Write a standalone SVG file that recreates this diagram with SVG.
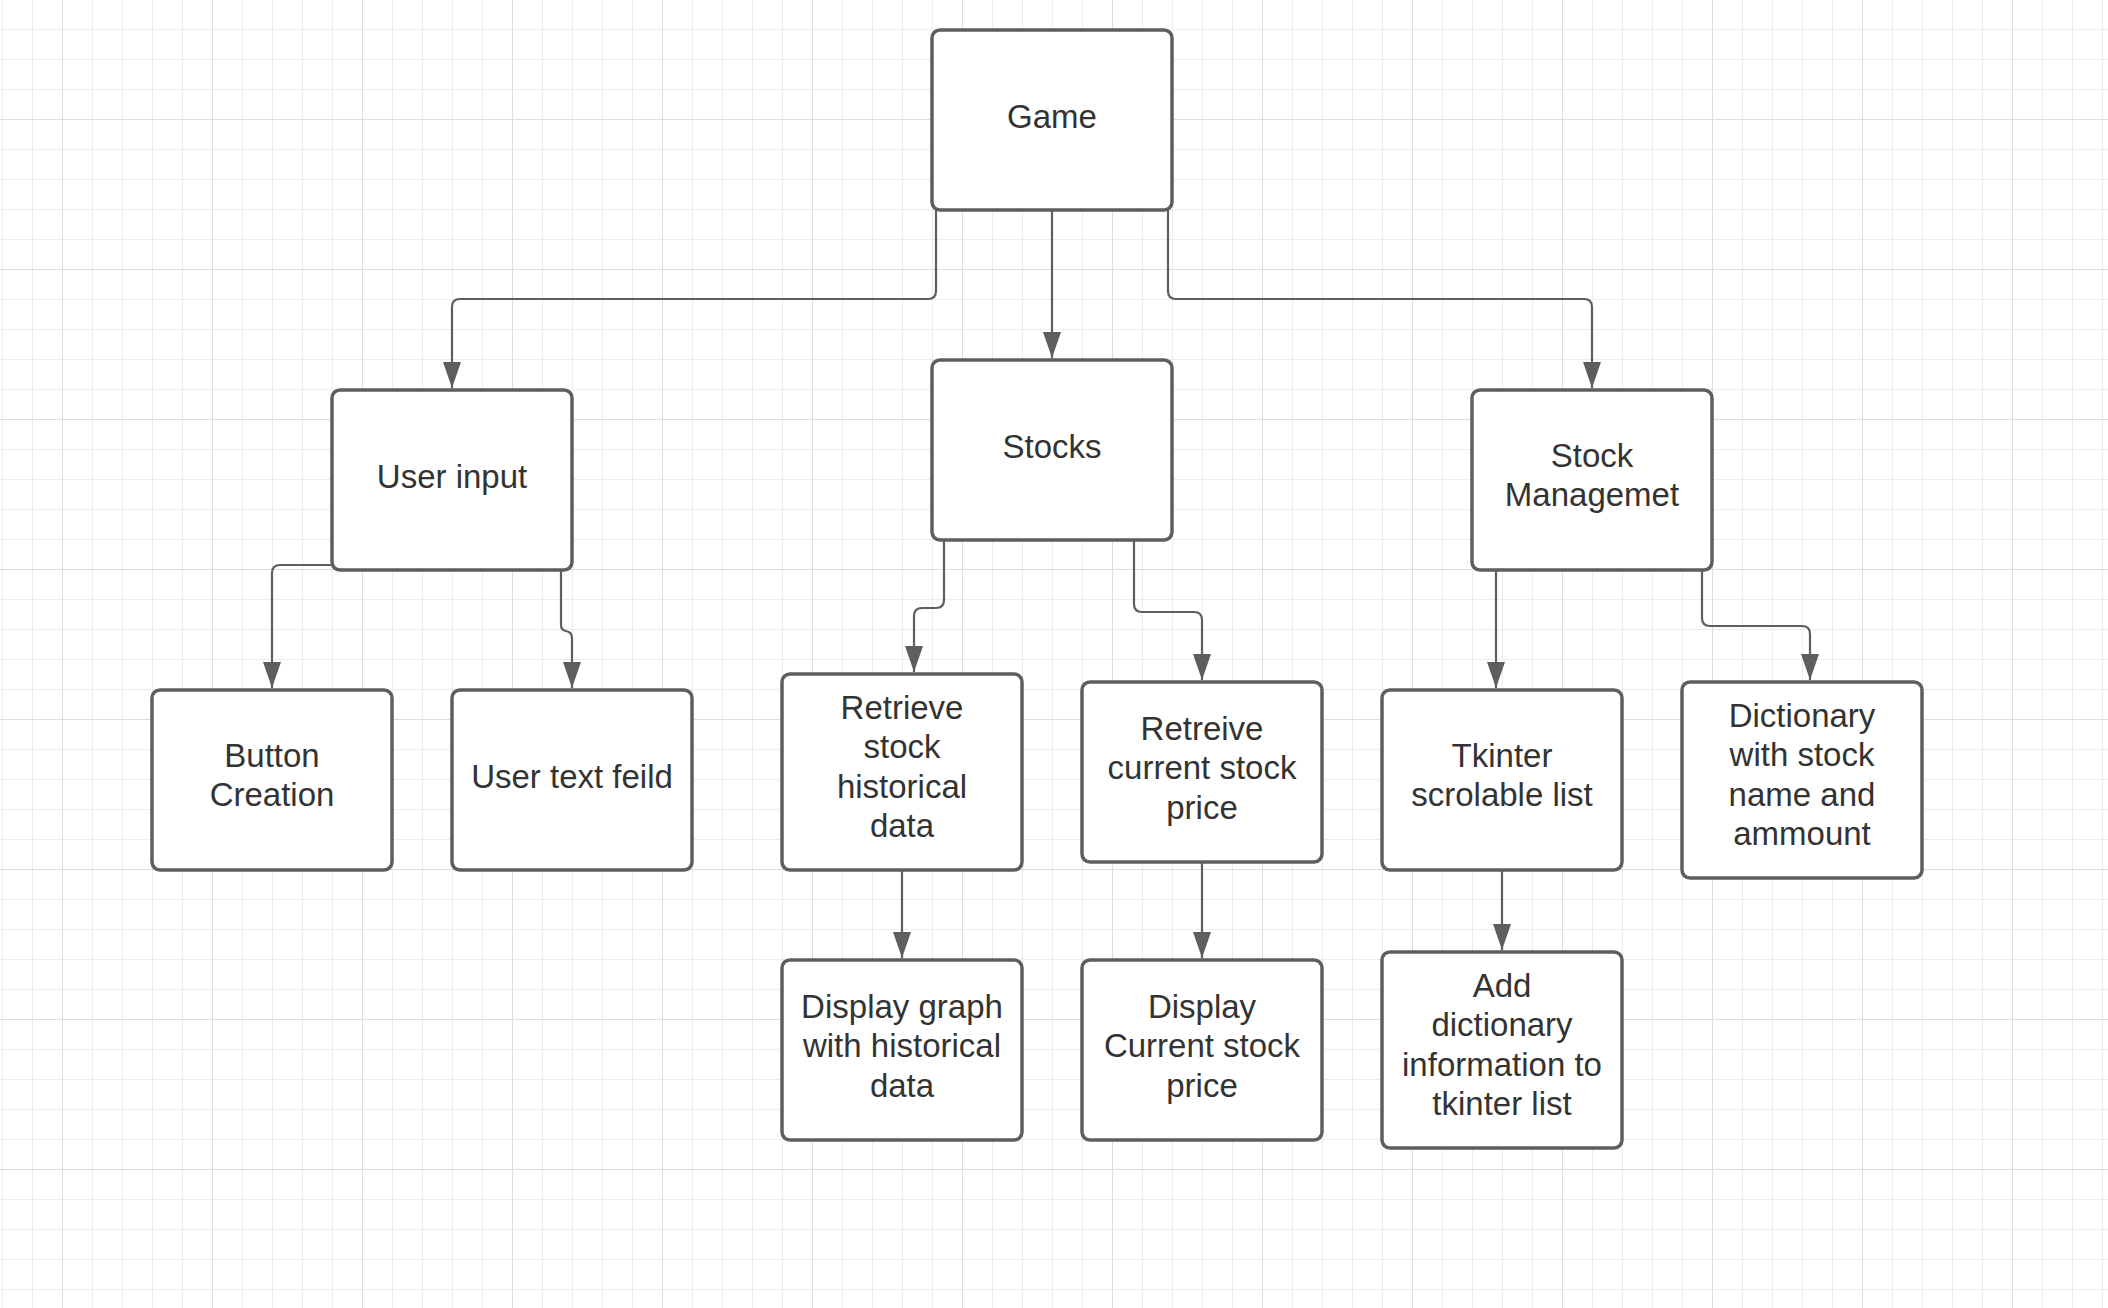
<svg xmlns="http://www.w3.org/2000/svg" width="2108" height="1308" viewBox="0 0 2108 1308">
  <defs>
    <pattern id="grid" x="62" y="119" width="150" height="150" patternUnits="userSpaceOnUse">
      <rect x="30" y="0" width="1" height="150" fill="#ececec"/>
      <rect x="60" y="0" width="1" height="150" fill="#ececec"/>
      <rect x="90" y="0" width="1" height="150" fill="#ececec"/>
      <rect x="120" y="0" width="1" height="150" fill="#ececec"/>
      <rect x="0" y="30" width="150" height="1" fill="#ececec"/>
      <rect x="0" y="60" width="150" height="1" fill="#ececec"/>
      <rect x="0" y="90" width="150" height="1" fill="#ececec"/>
      <rect x="0" y="120" width="150" height="1" fill="#ececec"/>
      <rect x="0" y="0" width="1" height="150" fill="#dddddd"/>
      <rect x="0" y="0" width="150" height="1" fill="#dddddd"/>
    </pattern>
    <marker id="arrow" markerUnits="userSpaceOnUse" markerWidth="26" markerHeight="18" refX="26" refY="9" orient="auto">
      <path d="M0,0 L26,9 L0,18 Z" fill="#5e5e5e"/>
    </marker>
    <style>
      .box { fill: #ffffff; stroke: #5e5e5e; stroke-width: 3.5; }
      .lbl { font-family: "Liberation Sans", Arial, sans-serif; font-size: 33px; fill: #333333; text-anchor: middle; }
      .edge { fill: none; stroke: #5e5e5e; stroke-width: 2.2; marker-end: url(#arrow); }
    </style>
  </defs>

  <!-- canvas grid -->
  <rect x="0" y="0" width="2108" height="1308" fill="#ffffff"/>
  <rect x="0" y="0" width="2108" height="1308" fill="url(#grid)"/>

  <!-- connectors -->
  <g id="connectors">
    <path class="edge" d="M936,210 V291 Q936,299 928,299 H460 Q452,299 452,307 V388"/>
    <path class="edge" d="M1052,210 V358"/>
    <path class="edge" d="M1168,210 V291 Q1168,299 1176,299 H1584 Q1592,299 1592,307 V388"/>
    <path class="edge" d="M332,565 H280 Q272,565 272,573 V688"/>
    <path class="edge" d="M561,570 V625 Q561,630 566,631 Q572,632 572,638 V688"/>
    <path class="edge" d="M944,540 V600 Q944,608 936,608 H922 Q914,608 914,616 V672"/>
    <path class="edge" d="M1134,540 V604 Q1134,612 1142,612 H1194 Q1202,612 1202,620 V680"/>
    <path class="edge" d="M1496,570 V688"/>
    <path class="edge" d="M1702,570 V618 Q1702,626 1710,626 H1802 Q1810,626 1810,634 V680"/>
    <path class="edge" d="M902,870 V958"/>
    <path class="edge" d="M1202,862 V958"/>
    <path class="edge" d="M1502,870 V950"/>
  </g>

  <!-- nodes -->
  <g id="game">
    <rect class="box" x="932" y="30" width="240" height="180" rx="8"/>
    <text class="lbl" x="1052" y="128">Game</text>
  </g>
  <g id="user-input">
    <rect class="box" x="332" y="390" width="240" height="180" rx="8"/>
    <text class="lbl" x="452" y="488">User input</text>
  </g>
  <g id="stocks">
    <rect class="box" x="932" y="360" width="240" height="180" rx="8"/>
    <text class="lbl" x="1052" y="458">Stocks</text>
  </g>
  <g id="stock-management">
    <rect class="box" x="1472" y="390" width="240" height="180" rx="8"/>
    <text class="lbl" x="1592" y="467">Stock</text>
    <text class="lbl" x="1592" y="506">Managemet</text>
  </g>
  <g id="button-creation">
    <rect class="box" x="152" y="690" width="240" height="180" rx="8"/>
    <text class="lbl" x="272" y="767">Button</text>
    <text class="lbl" x="272" y="806">Creation</text>
  </g>
  <g id="user-text-field">
    <rect class="box" x="452" y="690" width="240" height="180" rx="8"/>
    <text class="lbl" x="572" y="788">User text feild</text>
  </g>
  <g id="retrieve-historical">
    <rect class="box" x="782" y="674" width="240" height="196" rx="8"/>
    <text class="lbl" x="902" y="719">Retrieve</text>
    <text class="lbl" x="902" y="758">stock</text>
    <text class="lbl" x="902" y="798">historical</text>
    <text class="lbl" x="902" y="837">data</text>
  </g>
  <g id="retrieve-current">
    <rect class="box" x="1082" y="682" width="240" height="180" rx="8"/>
    <text class="lbl" x="1202" y="740">Retreive</text>
    <text class="lbl" x="1202" y="779">current stock</text>
    <text class="lbl" x="1202" y="819">price</text>
  </g>
  <g id="tkinter-list">
    <rect class="box" x="1382" y="690" width="240" height="180" rx="8"/>
    <text class="lbl" x="1502" y="767">Tkinter</text>
    <text class="lbl" x="1502" y="806">scrolable list</text>
  </g>
  <g id="dictionary">
    <rect class="box" x="1682" y="682" width="240" height="196" rx="8"/>
    <text class="lbl" x="1802" y="727">Dictionary</text>
    <text class="lbl" x="1802" y="766">with stock</text>
    <text class="lbl" x="1802" y="806">name and</text>
    <text class="lbl" x="1802" y="845">ammount</text>
  </g>
  <g id="display-graph">
    <rect class="box" x="782" y="960" width="240" height="180" rx="8"/>
    <text class="lbl" x="902" y="1018">Display graph</text>
    <text class="lbl" x="902" y="1057">with historical</text>
    <text class="lbl" x="902" y="1097">data</text>
  </g>
  <g id="display-current">
    <rect class="box" x="1082" y="960" width="240" height="180" rx="8"/>
    <text class="lbl" x="1202" y="1018">Display</text>
    <text class="lbl" x="1202" y="1057">Current stock</text>
    <text class="lbl" x="1202" y="1097">price</text>
  </g>
  <g id="add-dictionary">
    <rect class="box" x="1382" y="952" width="240" height="196" rx="8"/>
    <text class="lbl" x="1502" y="997">Add</text>
    <text class="lbl" x="1502" y="1036">dictionary</text>
    <text class="lbl" x="1502" y="1076">information to</text>
    <text class="lbl" x="1502" y="1115">tkinter list</text>
  </g>
</svg>
